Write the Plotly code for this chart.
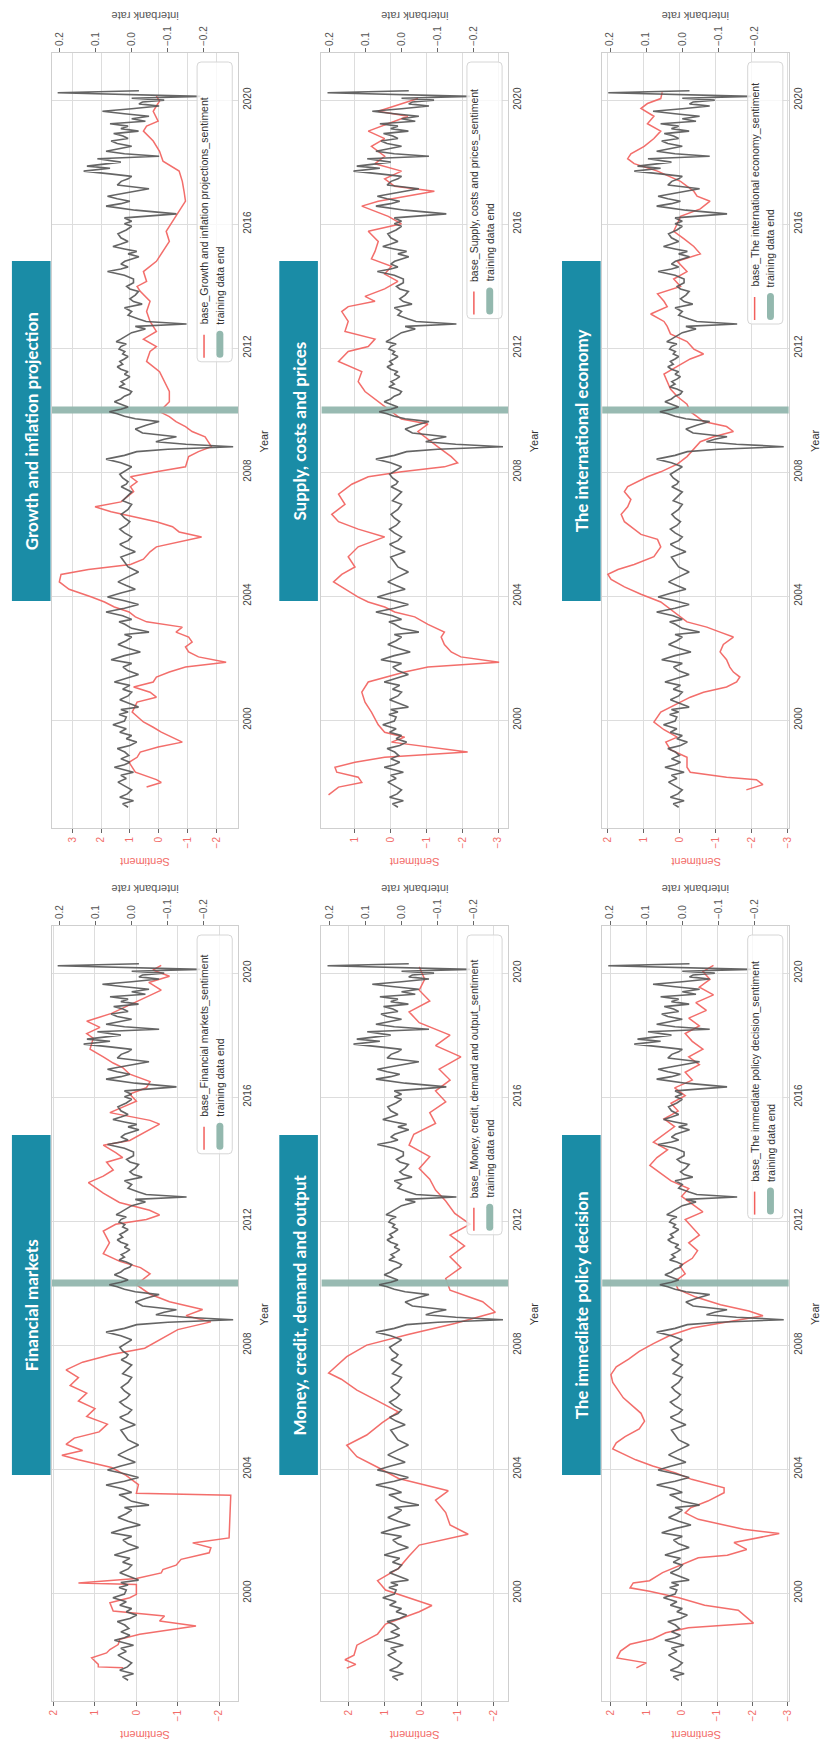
import plotly.graph_objects as go

FIG_W, FIG_H = 822, 1742

# ---------------------------------------------------------------- data
# Interbank rate (shared by every panel, plotted on the secondary axis)
rate_year = [1997.19, 1997.30, 1997.40, 1997.51, 1997.62, 1997.75, 1997.88, 1998.00, 1998.12, 1998.22,
             1998.32, 1998.40, 1998.48, 1998.56, 1998.64, 1998.75, 1998.86, 1998.97, 1999.08, 1999.18,
             1999.29, 1999.40, 1999.50, 1999.61, 1999.72, 1999.85, 1999.97, 2000.10, 2000.18, 2000.26,
             2000.34, 2000.42, 2000.54, 2000.66, 2000.78, 2000.90, 2001.00, 2001.12, 2001.23, 2001.35,
             2001.47, 2001.59, 2001.71, 2001.83, 2001.95, 2002.08, 2002.20, 2002.32, 2002.44, 2002.56,
             2002.68, 2002.76, 2002.84, 2002.96, 2003.09, 2003.17, 2003.25, 2003.37, 2003.49, 2003.61,
             2003.73, 2003.85, 2003.97, 2004.10, 2004.22, 2004.34, 2004.46, 2004.62, 2004.78, 2004.94,
             2005.10, 2005.26, 2005.43, 2005.55, 2005.67, 2005.79, 2005.91, 2006.04, 2006.16, 2006.28,
             2006.40, 2006.52, 2006.64, 2006.80, 2006.96, 2007.08, 2007.20, 2007.36, 2007.53, 2007.61,
             2007.69, 2007.81, 2007.93, 2008.05, 2008.17, 2008.30, 2008.42, 2008.54, 2008.66, 2008.74,
             2008.82, 2008.90, 2008.98, 2009.06, 2009.14, 2009.26, 2009.39, 2009.51, 2009.63, 2009.72,
             2009.80, 2009.88, 2009.95, 2010.03, 2010.10, 2010.19, 2010.27, 2010.36, 2010.45, 2010.52,
             2010.60, 2010.68, 2010.75, 2010.84, 2010.92, 2011.00, 2011.08, 2011.16, 2011.24, 2011.32,
             2011.40, 2011.48, 2011.57, 2011.65, 2011.73, 2011.81, 2011.89, 2011.97, 2012.05, 2012.13,
             2012.21, 2012.29, 2012.37, 2012.50, 2012.62, 2012.70, 2012.78, 2012.86, 2012.94, 2013.06,
             2013.18, 2013.30, 2013.42, 2013.50, 2013.59, 2013.71, 2013.83, 2013.91, 2013.99, 2014.11,
             2014.23, 2014.35, 2014.47, 2014.55, 2014.62, 2014.71, 2014.80, 2014.88, 2014.95, 2015.04,
             2015.12, 2015.20, 2015.28, 2015.36, 2015.44, 2015.56, 2015.69, 2015.81, 2015.93, 2016.01,
             2016.09, 2016.20, 2016.33, 2016.45, 2016.58, 2016.66, 2016.74, 2016.82, 2016.90, 2017.02,
             2017.14, 2017.26, 2017.38, 2017.46, 2017.54, 2017.62, 2017.71, 2017.80, 2017.87, 2018.00,
             2018.11, 2018.19, 2018.27, 2018.35, 2018.43, 2018.51, 2018.60, 2018.68, 2018.76, 2018.84,
             2018.92, 2019.00, 2019.08, 2019.16, 2019.24, 2019.32, 2019.40, 2019.48, 2019.56, 2019.64,
             2019.72, 2019.81, 2019.88, 2019.94, 2020.00, 2020.06, 2020.12, 2020.18, 2020.24, 2020.30]
rate_value = [0.010, 0.025, -0.005, 0.033, 0.012, 0.000, 0.020, 0.038, 0.015, 0.030,
              -0.005, 0.020, 0.048, 0.020, 0.005, 0.030, 0.008, 0.019, 0.040, 0.005,
              -0.014, 0.015, 0.000, 0.033, 0.015, 0.052, 0.020, 0.015, 0.035, 0.010,
              0.030, -0.019, 0.010, 0.033, 0.010, 0.000, 0.025, 0.005, 0.048, 0.015,
              -0.019, 0.010, 0.024, 0.000, 0.057, 0.020, -0.024, 0.010, 0.038, 0.015,
              0.000, 0.020, -0.048, 0.000, 0.019, 0.035, 0.000, 0.025, 0.071, 0.020,
              -0.019, 0.020, 0.067, 0.030, -0.010, 0.015, 0.038, 0.010, -0.019, 0.010,
              0.019, 0.030, -0.010, 0.015, 0.033, 0.010, 0.000, 0.020, 0.033, 0.015,
              0.005, 0.020, 0.029, 0.010, 0.000, 0.025, 0.014, 0.000, 0.029, 0.015,
              0.010, 0.025, 0.033, 0.015, 0.000, 0.030, 0.071, 0.020, -0.014, -0.100,
              -0.281, -0.150, -0.067, -0.090, -0.124, -0.030, -0.010, -0.040, -0.076, -0.010,
              0.020, 0.040, 0.062, 0.030, 0.010, 0.030, 0.048, 0.030, 0.020, 0.005,
              0.000, 0.015, 0.035, 0.020, 0.029, 0.015, 0.005, 0.020, 0.010, 0.030,
              0.040, 0.025, 0.033, 0.020, 0.010, 0.025, 0.019, 0.035, 0.030, 0.015,
              0.043, 0.030, 0.019, 0.000, -0.038, -0.010, -0.152, -0.040, -0.019, 0.010,
              0.000, 0.020, -0.029, -0.005, 0.005, -0.010, -0.019, 0.005, 0.014, -0.005,
              -0.005, 0.020, 0.067, 0.030, 0.010, 0.030, 0.019, 0.000, -0.020, 0.010,
              -0.014, 0.020, 0.052, 0.030, 0.010, 0.030, 0.038, 0.015, 0.000, 0.020,
              0.000, 0.020, -0.124, -0.010, 0.071, 0.030, 0.005, 0.040, 0.067, 0.010,
              -0.048, 0.040, 0.029, 0.010, 0.000, 0.060, 0.133, 0.060, 0.124, 0.030,
              0.095, -0.076, 0.020, 0.071, 0.030, 0.000, 0.040, 0.057, 0.010, 0.024,
              0.050, -0.019, 0.030, 0.010, 0.060, -0.038, 0.000, -0.048, 0.020, 0.081,
              0.000, -0.076, -0.020, -0.030, -0.090, 0.000, -0.190, -0.020, 0.205, -0.020]

# Topic sentiment series
growth_year = [1997.84, 1997.99, 1998.08, 1998.32, 1998.64, 1998.80, 1998.97, 1999.13, 1999.29, 1999.45,
               1999.61, 1999.77, 1999.94, 2000.26, 2000.58, 2000.74, 2000.90, 2001.07, 2001.23, 2001.39,
               2001.55, 2001.71, 2001.87, 2002.04, 2002.20, 2002.36, 2002.52, 2002.68, 2002.84, 2003.00,
               2003.17, 2003.33, 2003.49, 2003.65, 2003.81, 2003.97, 2004.22, 2004.46, 2004.70, 2004.86,
               2005.02, 2005.19, 2005.43, 2005.59, 2005.75, 2005.91, 2006.07, 2006.24, 2006.40, 2006.56,
               2006.72, 2006.88, 2007.04, 2007.37, 2007.53, 2007.69, 2007.85, 2008.01, 2008.17, 2008.50,
               2008.66, 2008.82, 2008.98, 2009.14, 2009.31, 2009.47, 2009.63, 2009.79, 2009.95, 2010.27,
               2010.60, 2010.92, 2011.24, 2011.57, 2011.89, 2012.05, 2012.29, 2012.54, 2012.86, 2013.18,
               2013.51, 2013.83, 2013.99, 2014.15, 2014.47, 2014.80, 2015.12, 2015.44, 2015.77, 2016.09,
               2016.41, 2016.74, 2017.06, 2017.38, 2017.71, 2018.03, 2018.35, 2018.68, 2019.00, 2019.16,
               2019.32, 2019.64, 2019.81, 2019.97, 2020.13]
growth_sent = [0.42, -0.09, 0.08, 0.81, 1.03, 0.75, 0.64, 0.02, -0.82, -0.48,
               -0.09, 0.19, 0.53, 0.92, 0.75, 0.08, 0.30, 0.87, 0.19, 0.08,
               -0.37, -0.93, -2.34, -1.38, -1.04, -0.93, -1.16, -1.04, -0.60, -0.82,
               0.42, 0.81, 1.03, 1.54, 1.88, 2.33, 3.11, 3.45, 3.39, 2.44,
               0.98, 0.53, 0.30, 0.08, -0.71, -1.49, -0.71, -0.48, 0.08, 0.87,
               1.65, 2.21, 1.31, 0.87, 0.98, 0.75, 0.98, 0.08, -0.93, -1.04,
               -1.38, -1.83, -1.72, -1.61, -1.16, -0.93, -0.60, -0.37, -0.03, -0.37,
               -0.37, -0.20, -0.03, 0.42, 0.30, 0.08, 0.53, 0.08, 0.30, 0.42,
               0.30, 0.64, 0.75, 0.42, 0.53, 0.08, -0.15, -0.37, -0.26, -0.48,
               -0.71, -0.93, -0.88, -0.82, -0.71, -0.15, -0.03, 0.19, 0.53, 0.42,
               0.02, 0.19, 0.08, -0.03, 0.08]

supply_year = [1997.59, 1997.84, 1997.99, 1998.16, 1998.32, 1998.48, 1998.64, 1998.80, 1998.97, 1999.13,
               1999.29, 1999.45, 1999.61, 1999.85, 2000.26, 2000.58, 2000.90, 2001.23, 2001.55, 2001.71,
               2001.87, 2002.04, 2002.20, 2002.44, 2002.68, 2002.84, 2003.09, 2003.33, 2003.49, 2003.65,
               2003.81, 2003.97, 2004.22, 2004.46, 2004.70, 2004.94, 2005.27, 2005.59, 2005.91, 2006.16,
               2006.40, 2006.64, 2006.96, 2007.29, 2007.61, 2007.85, 2008.01, 2008.17, 2008.30, 2008.50,
               2008.82, 2009.06, 2009.31, 2009.55, 2009.71, 2009.95, 2010.27, 2010.60, 2010.92, 2011.24,
               2011.57, 2011.89, 2012.05, 2012.29, 2012.54, 2012.86, 2013.18, 2013.34, 2013.51, 2013.67,
               2013.91, 2014.15, 2014.39, 2014.64, 2014.88, 2015.12, 2015.44, 2015.77, 2016.01, 2016.25,
               2016.58, 2016.74, 2017.06, 2017.22, 2017.46, 2017.71, 2017.95, 2018.19, 2018.51, 2018.76,
               2019.00, 2019.24, 2019.48, 2019.64, 2019.89, 2020.05]
supply_sent = [1.74, 1.46, 0.81, 0.91, 1.51, 1.56, 1.00, 0.17, -2.15, -1.04,
               -0.02, -0.39, 0.17, 0.35, 0.54, 0.72, 0.81, 0.63, -0.39, -1.04,
               -3.03, -1.96, -1.69, -1.50, -1.41, -1.50, -1.04, -0.67, -0.11, 0.17,
               0.63, 0.91, 1.28, 1.60, 1.37, 1.00, 1.19, 0.91, 0.17, 0.91,
               1.46, 1.65, 1.28, 1.46, 1.09, 0.63, -0.30, -1.50, -1.87, -1.69,
               -1.31, -1.04, -0.76, -1.04, -0.30, -0.02, 0.35, 0.72, 0.91, 0.81,
               1.46, 1.19, 0.63, 0.44, 1.28, 1.19, 1.37, 1.19, 0.44, 0.72,
               0.17, -0.20, 0.17, -0.02, 0.54, 0.44, 0.35, 0.63, -0.30, 0.07,
               0.81, 0.35, -1.22, -0.11, 0.17, -0.30, 0.44, 0.17, 0.54, 0.17,
               0.63, 0.07, -0.48, 0.35, -0.30, -0.76]

intl_year = [1997.75, 1997.92, 1998.08, 1998.16, 1998.32, 1998.48, 1998.80, 1999.05, 1999.29, 1999.45,
             1999.69, 1999.94, 2000.26, 2000.58, 2000.74, 2000.90, 2001.07, 2001.23, 2001.39, 2001.55,
             2001.71, 2001.95, 2002.20, 2002.44, 2002.68, 2002.84, 2003.00, 2003.17, 2003.49, 2003.81,
             2004.06, 2004.30, 2004.54, 2004.70, 2004.86, 2005.02, 2005.27, 2005.59, 2005.83, 2005.99,
             2006.24, 2006.40, 2006.64, 2006.88, 2007.12, 2007.37, 2007.53, 2007.69, 2007.85, 2008.01,
             2008.26, 2008.50, 2008.74, 2008.98, 2009.14, 2009.31, 2009.47, 2009.63, 2009.79, 2009.95,
             2010.19, 2010.44, 2010.68, 2010.92, 2011.16, 2011.41, 2011.65, 2011.81, 2011.97, 2012.21,
             2012.46, 2012.70, 2012.86, 2013.10, 2013.34, 2013.51, 2013.75, 2013.99, 2014.23, 2014.47,
             2014.80, 2015.04, 2015.28, 2015.53, 2015.77, 2016.01, 2016.25, 2016.49, 2016.74, 2016.90,
             2017.06, 2017.38, 2017.71, 2017.95, 2018.11, 2018.27, 2018.51, 2018.76, 2019.00, 2019.24,
             2019.48, 2019.73, 2019.89, 2020.05, 2020.25]
intl_sent = [-1.85, -2.31, -2.13, -1.30, -0.29, -0.20, -0.20, 0.26, 0.39, 0.07,
             0.44, 0.72, 0.53, -0.02, -0.29, -0.66, -1.30, -1.58, -1.67, -1.49,
             -1.39, -1.30, -1.12, -1.21, -1.49, -1.12, -0.75, -0.20, 0.17, 0.53,
             1.08, 1.54, 1.91, 2.00, 1.72, 1.27, 0.72, 0.53, 0.62, 1.08,
             1.36, 1.54, 1.63, 1.45, 1.36, 1.54, 1.45, 1.17, 0.90, 0.53,
             0.07, -0.20, -0.39, -0.57, -0.94, -1.49, -1.30, -0.66, -0.48, -0.29,
             -0.20, 0.07, 0.26, 0.35, 0.44, 0.07, -0.29, -0.66, -0.39, -0.20,
             0.26, 0.35, 0.44, 0.81, 0.35, 0.44, 0.62, -0.02, 0.17, -0.20,
             0.07, -0.57, -0.39, -0.11, 0.17, 0.07, -0.02, -0.57, -0.84, -0.48,
             -0.39, -0.02, 0.62, 1.27, 1.45, 1.36, 0.99, 0.72, 0.53, 0.90,
             0.72, 1.08, 0.90, 0.53, 0.49]

fin_year = [1997.59, 1997.62, 1997.70, 1997.91, 1998.07, 1998.18, 1998.34, 1998.51, 1998.67, 1998.94,
            1999.10, 1999.26, 1999.42, 1999.69, 1999.85, 1999.96, 2000.28, 2000.33, 2000.47, 2000.65,
            2000.76, 2000.90, 2001.09, 2001.19, 2001.30, 2001.46, 2001.62, 2001.78, 2003.16, 2003.22,
            2003.50, 2003.80, 2004.05, 2004.30, 2004.45, 2004.60, 2004.80, 2005.00, 2005.20, 2005.45,
            2005.70, 2005.95, 2006.20, 2006.45, 2006.70, 2006.95, 2007.20, 2007.45, 2007.70, 2007.90,
            2008.20, 2008.50, 2008.75, 2008.95, 2009.15, 2009.40, 2009.65, 2009.95, 2010.30, 2010.50,
            2010.70, 2010.95, 2011.30, 2011.68, 2011.90, 2012.05, 2012.20, 2012.35, 2012.60, 2012.90,
            2013.24, 2013.45, 2013.65, 2013.90, 2014.05, 2014.20, 2014.45, 2014.60, 2015.13, 2015.25,
            2015.50, 2015.87, 2016.10, 2016.30, 2016.50, 2016.74, 2016.95, 2017.10, 2017.30, 2017.55,
            2017.90, 2018.05, 2018.25, 2018.45, 2018.70, 2018.95, 2019.20, 2019.45, 2019.70, 2019.90,
            2020.10, 2020.25]
fin_sent = [0.32, 0.92, 0.92, 1.08, 0.72, 0.64, 0.44, 0.40, -0.08, -1.44,
            -0.56, -0.68, 0.56, 0.64, 0.16, 0.00, 0.00, 1.40, 0.00, -0.60,
            -0.64, -0.96, -1.08, -1.44, -1.76, -1.80, -1.36, -2.24, -2.28, 0.00,
            -0.05, 0.25, 0.60, 1.40, 1.80, 1.30, 1.70, 1.50, 0.90, 0.70,
            1.20, 1.00, 1.40, 1.20, 1.60, 1.40, 1.70, 1.30, 0.60, -0.20,
            -0.60, -1.00, -1.80, -1.20, -1.60, -0.80, -0.32, 0.00, -0.33, -0.10,
            0.40, 0.80, 0.65, 0.80, 0.50, -0.24, -0.56, -0.32, 0.41, 0.80,
            1.16, 0.80, 0.56, 0.72, 0.33, 0.49, 0.80, 0.16, -0.56, -0.33,
            0.64, 0.00, 0.16, -0.24, -0.33, 0.16, 0.33, 0.56, 0.80, 1.12,
            1.04, 1.20, 0.88, 1.20, 0.60, 0.20, -0.20, -0.60, -0.30, -0.80,
            -0.40, -0.60]

money_year = [1997.58, 1997.70, 1997.85, 1998.00, 1998.32, 1998.68, 1999.00, 1999.40, 1999.60, 2000.10,
              2000.40, 2000.80, 2001.20, 2001.55, 2001.90, 2002.20, 2002.60, 2003.00, 2003.30, 2003.70,
              2004.06, 2004.40, 2004.77, 2005.10, 2005.50, 2005.85, 2006.20, 2006.55, 2006.90, 2007.10,
              2007.63, 2008.00, 2008.35, 2008.70, 2009.06, 2009.40, 2009.77, 2010.15, 2010.50, 2010.85,
              2011.20, 2011.55, 2011.90, 2012.25, 2012.65, 2013.00, 2013.35, 2013.70, 2014.08, 2014.45,
              2014.80, 2015.15, 2015.50, 2015.85, 2016.20, 2016.55, 2016.90, 2017.30, 2017.66, 2018.00,
              2018.40, 2018.75, 2019.10, 2019.45, 2019.80, 2020.20]
money_sent = [2.05, 1.80, 2.10, 1.85, 1.77, 1.20, 0.98, 0.05, -0.30, 0.98,
              1.20, 0.62, 0.33, 0.05, -1.30, -0.80, -0.68, -0.40, -0.75, 0.62,
              1.20, 1.77, 2.05, 1.50, 1.07, 0.63, 1.20, 1.77, 2.20, 2.55,
              2.05, 1.50, 0.33, -0.93, -2.05, -1.70, -0.80, -0.68, -1.10, -0.80,
              -1.20, -0.80, -1.35, -0.93, -0.68, -0.40, -0.24, 0.05, -0.24, 0.33,
              0.20, -0.40, -0.24, -0.68, -0.40, -0.80, -0.50, -1.10, -0.40, -0.80,
              0.05, 0.33, -0.24, 0.05, -0.10, 0.05]

policy_year = [1997.59, 1997.75, 1997.91, 1998.13, 1998.35, 1998.52, 1998.72, 1998.88, 1999.03, 1999.30,
               1999.45, 1999.61, 1999.85, 2000.06, 2000.17, 2000.33, 2000.40, 2000.66, 2000.87, 2001.14,
               2001.22, 2001.41, 2001.63, 2001.92, 2002.06, 2002.27, 2002.38, 2002.59, 2002.75, 2002.97,
               2003.24, 2003.40, 2003.51, 2003.67, 2003.88, 2004.10, 2004.30, 2004.47, 2004.65, 2004.85,
               2005.05, 2005.30, 2005.55, 2005.80, 2006.05, 2006.30, 2006.55, 2006.80, 2007.05, 2007.30,
               2007.55, 2007.80, 2008.05, 2008.30, 2008.55, 2008.80, 2008.95, 2009.10, 2009.30, 2009.55,
               2009.80, 2010.05, 2010.30, 2010.55, 2010.80, 2011.05, 2011.30, 2011.55, 2011.80, 2012.05,
               2012.30, 2012.55, 2012.80, 2013.05, 2013.30, 2013.55, 2013.80, 2014.05, 2014.30, 2014.55,
               2014.80, 2015.05, 2015.30, 2015.55, 2015.80, 2016.05, 2016.30, 2016.55, 2016.80, 2017.05,
               2017.30, 2017.55, 2017.80, 2018.05, 2018.30, 2018.55, 2018.80, 2019.05, 2019.30, 2019.55,
               2019.80, 2020.05, 2020.25]
policy_sent = [1.28, 1.00, 1.83, 1.73, 1.46, 0.82, 0.45, -0.19, -2.03, -1.75,
               -1.60, -0.65, 0.08, 0.91, 1.46, 1.37, 0.91, 0.54, 0.08, -0.47,
               -1.29, -1.84, -1.48, -2.76, -1.75, -0.93, -0.47, -0.10, -0.25, -0.74,
               -1.20, -1.20, -0.83, -0.28, 0.17, 0.82, 1.30, 1.64, 1.95, 1.85,
               1.60, 1.20, 1.05, 1.15, 1.40, 1.65, 1.80, 1.95, 2.00, 1.85,
               1.50, 1.20, 0.80, 0.35, -0.30, -1.60, -2.30, -1.90, -1.10, -0.40,
               0.10, 0.20, -0.10, 0.05, -0.30, -0.45, -0.20, -0.50, -0.30, -0.10,
               -0.60, -0.30, 0.00, -0.20, 0.30, 0.60, 0.90, 0.70, 0.40, 0.80,
               0.50, 0.20, 0.50, 0.10, 0.30, -0.10, 0.20, -0.30, -0.10, -0.50,
               -0.20, -0.60, -0.30, -0.10, -0.50, -0.20, -0.70, -0.40, -0.90, -0.50,
               -0.80, -0.60, -0.90]

year_ticks = [2000, 2004, 2008, 2012, 2016, 2020]
rate_ticks = [0.2, 0.1, 0.0, -0.1, -0.2]
TRAIN_END = 2010.0

# ---------------------------------------------------------------- layout config
RED = "#f25f5c"
RED_TXT = "#f26b68"
GRAY = "#555555"
TEAL_BANNER = "#1a8ca6"
TEAL_BAND = "#93b8ae"
GRID = "#dddddd"
FRAME = "#cfcfcf"
TICK_FONT = "Liberation Sans, Arial, sans-serif"

COL_LEFT = [48, 320.5, 604]
BANNER_LEFT = [8, 278, 563.5]
PLOT_W = 188.5
ROW_TOP = [53, 926]
PLOT_H = 775
BANNER_TOP = [261, 1135]
BANNER_W, BANNER_H = 39, 340
YEAR_RANGE = [1996.52, 2021.52]
RATE_RANGE = [0.222, -0.295]

panels = [
    dict(title="Growth and inflation projection", label="base_Growth and inflation projections_sentiment",
         year=growth_year, sent=growth_sent, srange=[3.72, -2.76], sticks=[3, 2, 1, 0, -1, -2], row=0, col=0),
    dict(title="Supply, costs and prices", label="base_Supply, costs and prices_sentiment",
         year=supply_year, sent=supply_sent, srange=[1.94, -3.28], sticks=[1, 0, -1, -2, -3], row=0, col=1),
    dict(title="The international economy", label="base_The international economy_sentiment",
         year=intl_year, sent=intl_sent, srange=[2.16, -3.03], sticks=[2, 1, 0, -1, -2, -3], row=0, col=2),
    dict(title="Financial markets", label="base_Financial markets_sentiment",
         year=fin_year, sent=fin_sent, srange=[2.05, -2.46], sticks=[2, 1, 0, -1, -2], row=1, col=0),
    dict(title="Money, credit, demand and output", label="base_Money, credit, demand and output_sentiment",
         year=money_year, sent=money_sent, srange=[2.75, -2.40], sticks=[2, 1, 0, -1, -2], row=1, col=1),
    dict(title="The immediate policy decision", label="base_The immediate policy decision_sentiment",
         year=policy_year, sent=policy_sent, srange=[2.25, -3.03], sticks=[2, 1, 0, -1, -2, -3], row=1, col=2),
]


def px_x(v):
    return v / FIG_W


def px_y(v):
    return 1 - v / FIG_H


def axis_key(kind, n):
    return f"{kind}axis" if n == 1 else f"{kind}axis{n}"


def axis_ref(kind, n):
    return kind if n == 1 else f"{kind}{n}"


def label(text, x, y, angle, font, xanchor="center", yanchor="middle"):
    return dict(text=text, x=px_x(x), y=px_y(y), xref="paper", yref="paper",
                xanchor=xanchor, yanchor=yanchor, showarrow=False, textangle=angle, font=font)


fig = go.Figure()
layout = {}
annotations = []
shapes = []

for k, p in enumerate(panels):
    sx_n, ix_n, y_n = 2 * k + 1, 2 * k + 2, k + 1
    sx, ix, yy = axis_ref("x", sx_n), axis_ref("x", ix_n), axis_ref("y", y_n)
    left = COL_LEFT[p["col"]]
    top = ROW_TOP[p["row"]]
    right, bottom = left + PLOT_W, top + PLOT_H

    # sentiment line
    fig.add_trace(go.Scatter(x=p["sent"], y=p["year"], xaxis=sx, yaxis=yy, mode="lines",
                             line=dict(color=RED, width=1.5), opacity=0.9,
                             showlegend=False, hoverinfo="skip"))
    # end of the training window
    fig.add_trace(go.Scatter(x=p["srange"], y=[TRAIN_END, TRAIN_END], xaxis=sx, yaxis=yy,
                             mode="lines", line=dict(color=TEAL_BAND, width=7), opacity=0.95,
                             showlegend=False, hoverinfo="skip"))
    # interbank rate on the twin axis
    fig.add_trace(go.Scatter(x=rate_value, y=rate_year, xaxis=ix, yaxis=yy, mode="lines",
                             line=dict(color=GRAY, width=1.6), opacity=0.9,
                             showlegend=False, hoverinfo="skip"))

    layout[axis_key("x", sx_n)] = dict(
        domain=[px_x(left), px_x(right)], anchor=yy, side="bottom",
        range=p["srange"], tickvals=p["sticks"], tickangle=-90,
        tickfont=dict(family=TICK_FONT, size=10, color=RED_TXT),
        ticks="outside", ticklen=4, tickcolor="#666", tickwidth=1,
        showgrid=True, gridcolor=GRID, gridwidth=1, zeroline=False,
        showline=True, linecolor=FRAME, linewidth=1, mirror=True)
    layout[axis_key("x", ix_n)] = dict(
        overlaying=sx, anchor=yy, side="top", range=RATE_RANGE,
        tickvals=rate_ticks, tickformat=".1f", tickangle=-90,
        tickfont=dict(family=TICK_FONT, size=10, color="#555"),
        ticks="outside", ticklen=4, tickcolor="#666", tickwidth=1,
        showgrid=False, zeroline=False, showline=False)
    layout[axis_key("y", y_n)] = dict(
        domain=[px_y(bottom), px_y(top)], anchor=sx, side="right",
        range=YEAR_RANGE, tickvals=year_ticks, tickangle=-90,
        tickfont=dict(family=TICK_FONT, size=10, color="#444"),
        showgrid=True, gridcolor=GRID, gridwidth=1, zeroline=False,
        showline=True, linecolor=FRAME, linewidth=1, mirror=True, ticks="")

    cx = (left + right) / 2
    annotations += [
        label("interbank rate", cx, top - 37, 180, dict(family=TICK_FONT, size=11, color="#555")),
        label("Sentiment", cx, bottom + 34, 180, dict(family=TICK_FONT, size=11, color=RED_TXT)),
        label("Year", right + 26, (top + bottom) / 2, -90, dict(family=TICK_FONT, size=11, color="#333")),
    ]

    # title banner
    bl, bt = BANNER_LEFT[p["col"]], BANNER_TOP[p["row"]]
    shapes.append(dict(type="rect", xref="paper", yref="paper", layer="above",
                       x0=px_x(bl), x1=px_x(bl + BANNER_W), y0=px_y(bt + BANNER_H), y1=px_y(bt),
                       fillcolor=TEAL_BANNER, line=dict(width=0)))
    annotations.append(label(f"<b>{p['title']}</b>", bl + BANNER_W / 2, bt + BANNER_H / 2, -90,
                             dict(family="Lato, Roboto, sans-serif", size=17, color="white")))

    # legend box, drawn by hand so it can sit rotated with the panel
    lx0, lx1 = right - 41.5, right - 6
    ly0 = top + 9
    ly1 = ly0 + 5.4 * len(p["label"]) + 46
    r = 4
    path = (f"M {px_x(lx0 + r)},{px_y(ly0)} L {px_x(lx1 - r)},{px_y(ly0)} "
            f"Q {px_x(lx1)},{px_y(ly0)} {px_x(lx1)},{px_y(ly0 + r)} "
            f"L {px_x(lx1)},{px_y(ly1 - r)} Q {px_x(lx1)},{px_y(ly1)} {px_x(lx1 - r)},{px_y(ly1)} "
            f"L {px_x(lx0 + r)},{px_y(ly1)} Q {px_x(lx0)},{px_y(ly1)} {px_x(lx0)},{px_y(ly1 - r)} "
            f"L {px_x(lx0)},{px_y(ly0 + r)} Q {px_x(lx0)},{px_y(ly0)} {px_x(lx0 + r)},{px_y(ly0)} Z")
    shapes.append(dict(type="path", path=path, xref="paper", yref="paper", layer="above",
                       fillcolor="rgba(255,255,255,0.8)", line=dict(color="#d6d6d6", width=1)))
    shapes.append(dict(type="line", xref="paper", yref="paper", layer="above",
                       x0=px_x(lx0 + 7), x1=px_x(lx0 + 7), y0=px_y(ly1 - 27), y1=px_y(ly1 - 4),
                       line=dict(color=RED, width=1.5)))
    hx0, hx1 = lx0 + 19.5, lx0 + 26.5
    hy0, hy1 = ly1 - 31, ly1 - 4
    rr = 3.5
    handle = (f"M {px_x(hx0)},{px_y(hy0 + rr)} Q {px_x(hx0)},{px_y(hy0)} {px_x(hx0 + rr)},{px_y(hy0)} "
              f"Q {px_x(hx1)},{px_y(hy0)} {px_x(hx1)},{px_y(hy0 + rr)} L {px_x(hx1)},{px_y(hy1 - rr)} "
              f"Q {px_x(hx1)},{px_y(hy1)} {px_x(hx1 - rr)},{px_y(hy1)} "
              f"Q {px_x(hx0)},{px_y(hy1)} {px_x(hx0)},{px_y(hy1 - rr)} Z")
    shapes.append(dict(type="path", path=handle, xref="paper", yref="paper", layer="above",
                       fillcolor=TEAL_BAND, line=dict(width=0)))
    legend_font = dict(family=TICK_FONT, size=10.5, color="#333")
    annotations += [
        label(p["label"], lx0 + 7, ly1 - 35, -90, legend_font, yanchor="bottom"),
        label("training data end", lx0 + 23, ly1 - 35, -90, legend_font, yanchor="bottom"),
    ]

fig.update_layout(
    width=FIG_W, height=FIG_H, margin=dict(l=0, r=0, t=0, b=0),
    paper_bgcolor="white", plot_bgcolor="white", showlegend=False,
    annotations=annotations, shapes=shapes, **layout)

fig.write_html("out.html")
